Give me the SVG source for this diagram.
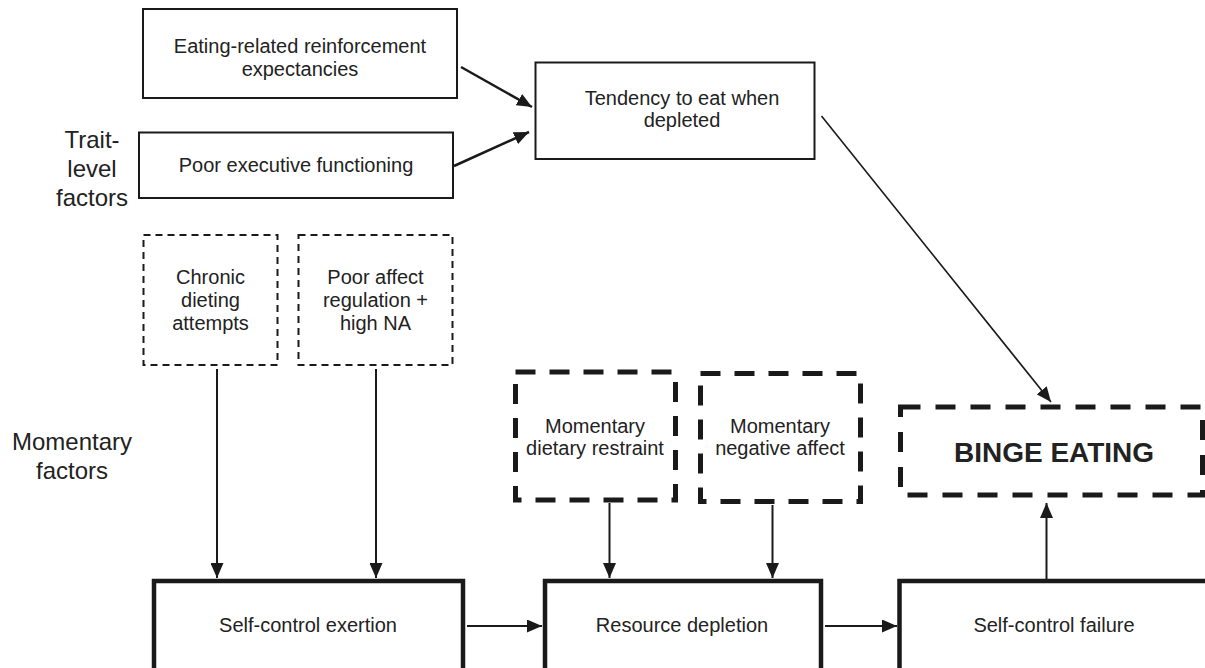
<svg xmlns="http://www.w3.org/2000/svg" width="1205" height="668" viewBox="0 0 1205 668">
<defs>
<style>
text{font-family:"Liberation Sans",Arial,sans-serif;fill:#222;text-anchor:middle}
.t20{font-size:20px}
.lbl{font-size:24px}
.bold{font-size:28px;font-weight:bold}
.box{fill:#fff;stroke:#1a1a1a;stroke-width:2}
.thin-dash{fill:#fff;stroke:#1a1a1a;stroke-width:2;stroke-dasharray:7 5}
.thick-dash{fill:#fff;stroke:#1a1a1a;stroke-width:5;stroke-dasharray:20 14}
.bin-dash{fill:#fff;stroke:#1a1a1a;stroke-width:5;stroke-dasharray:20 15}
.heavy{fill:#fff;stroke:#1a1a1a;stroke-width:4.5}
.conn{stroke:#1a1a1a;fill:none;marker-end:url(#ah)}
</style>
<marker id="ah" markerUnits="userSpaceOnUse" markerWidth="15" markerHeight="13" refX="15" refY="6.5" orient="auto">
<path d="M0,0 L15,6.5 L0,13 z" fill="#1a1a1a"/>
</marker>
</defs>
<rect width="1205" height="668" fill="#fff"/>

<g id="labels">
<text class="lbl" x="92" y="148">Trait-</text>
<text class="lbl" x="92" y="177">level</text>
<text class="lbl" x="92" y="206">factors</text>
<text class="lbl" x="72" y="450">Momentary</text>
<text class="lbl" x="72" y="479">factors</text>
</g>

<g id="eating-expectancies">
<rect class="box" x="143" y="9" width="314" height="89"/>
<text class="t20" x="300" y="53">Eating-related reinforcement</text>
<text class="t20" x="300" y="76">expectancies</text>
</g>

<g id="executive">
<rect class="box" x="139" y="132.5" width="314" height="65.5"/>
<text class="t20" x="296" y="172">Poor executive functioning</text>
</g>

<g id="tendency">
<rect class="box" x="535.5" y="62.5" width="279" height="96.5"/>
<text class="t20" x="682" y="105">Tendency to eat when</text>
<text class="t20" x="682" y="127">depleted</text>
</g>

<g id="chronic-dieting">
<rect class="thin-dash" x="143.5" y="235" width="134" height="130"/>
<text class="t20" x="210.5" y="284">Chronic</text>
<text class="t20" x="210.5" y="307">dieting</text>
<text class="t20" x="210.5" y="330">attempts</text>
</g>

<g id="affect-regulation">
<rect class="thin-dash" x="298.5" y="235" width="154" height="130"/>
<text class="t20" x="375.5" y="284">Poor affect</text>
<text class="t20" x="375.5" y="307">regulation +</text>
<text class="t20" x="375.5" y="330">high NA</text>
</g>

<g id="momentary-restraint">
<rect class="thick-dash" x="515.5" y="372" width="160" height="128"/>
<text class="t20" x="595" y="433">Momentary</text>
<text class="t20" x="595" y="455">dietary restraint</text>
</g>

<g id="momentary-affect">
<rect class="thick-dash" x="700.5" y="373.5" width="160" height="128"/>
<text class="t20" x="780" y="433">Momentary</text>
<text class="t20" x="780" y="455">negative affect</text>
</g>

<g id="binge-eating">
<rect class="bin-dash" x="900.5" y="407" width="302" height="88"/>
<text class="bold" x="1054" y="462">BINGE EATING</text>
</g>

<g id="self-control-exertion">
<rect class="heavy" x="154" y="581" width="309" height="120"/>
<text class="t20" x="308" y="632">Self-control exertion</text>
</g>

<g id="resource-depletion">
<rect class="heavy" x="545" y="581" width="276" height="120"/>
<text class="t20" x="682" y="632">Resource depletion</text>
</g>

<g id="self-control-failure">
<rect class="heavy" x="899.5" y="581" width="320" height="120"/>
<text class="t20" x="1054" y="632">Self-control failure</text>
</g>

<g id="connectors">
<line class="conn" stroke-width="2.5" x1="461" y1="67" x2="532" y2="107"/>
<line class="conn" stroke-width="2.5" x1="454" y1="166" x2="529" y2="132"/>
<line class="conn" stroke-width="1.6" x1="821.5" y1="116" x2="1051" y2="402"/>
<line class="conn" stroke-width="2" x1="217" y1="369" x2="217" y2="578"/>
<line class="conn" stroke-width="2" x1="376" y1="369" x2="376" y2="578"/>
<line class="conn" stroke-width="2" x1="609.5" y1="503" x2="609.5" y2="578"/>
<line class="conn" stroke-width="2" x1="772.5" y1="505" x2="772.5" y2="578"/>
<line class="conn" stroke-width="2" x1="467" y1="626" x2="542" y2="626"/>
<line class="conn" stroke-width="2" x1="825" y1="626" x2="897" y2="626"/>
<line class="conn" stroke-width="2" x1="1046.5" y1="579" x2="1046.5" y2="503"/>
</g>
</svg>
